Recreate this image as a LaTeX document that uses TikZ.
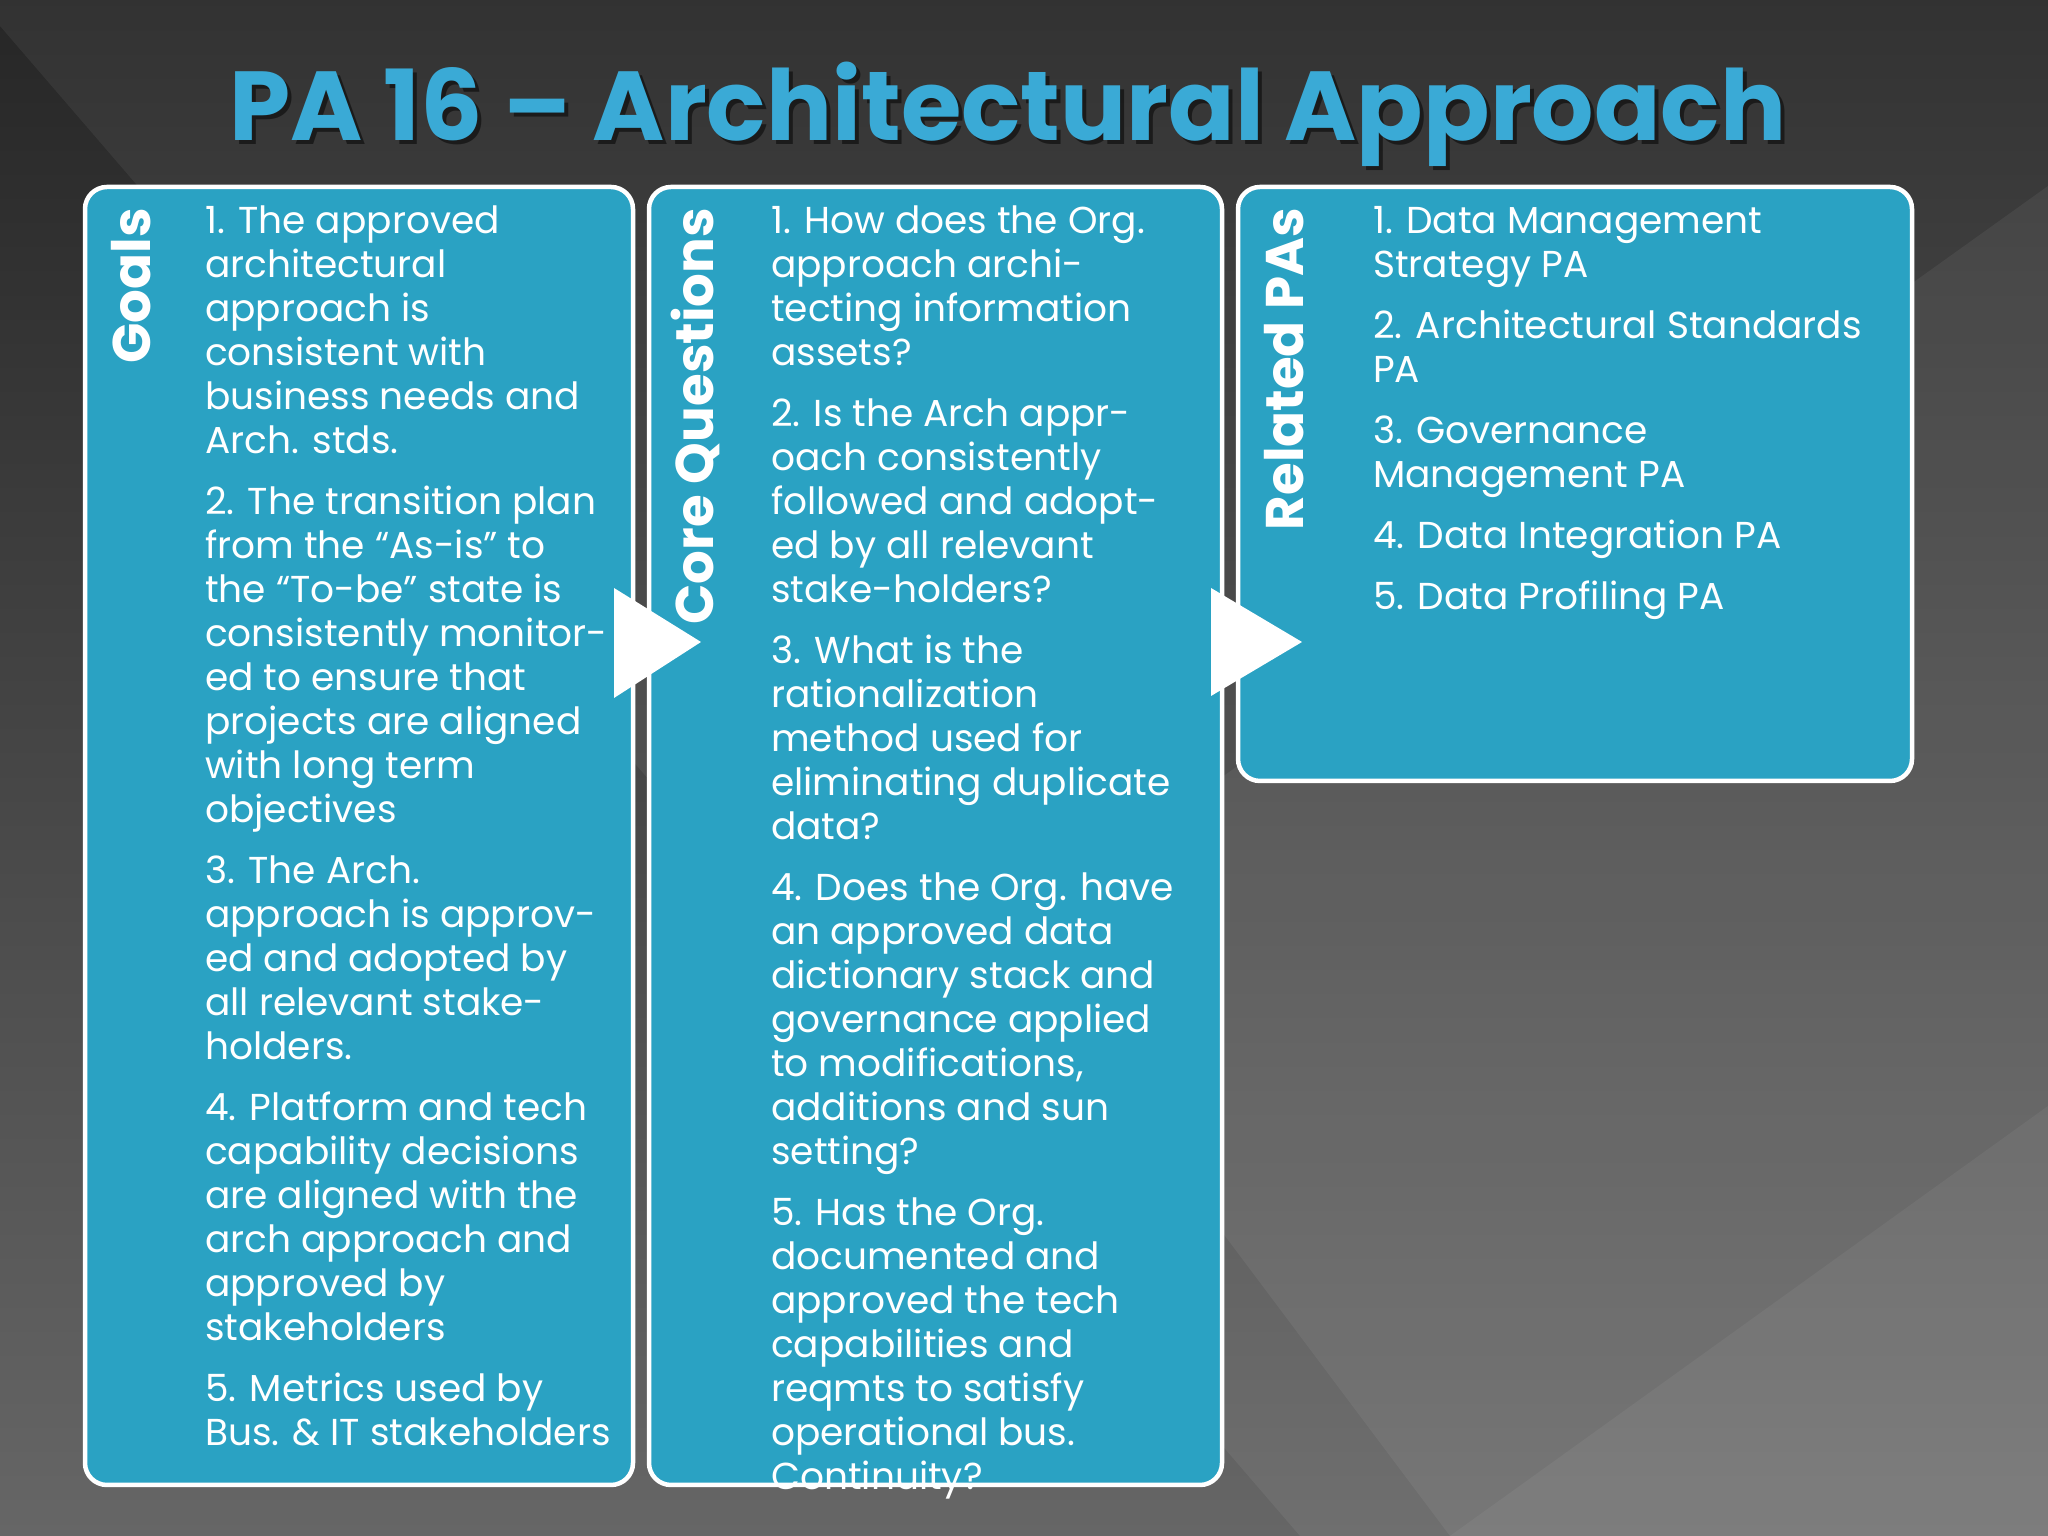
\documentclass[tikz,border=0pt]{standalone}
\usepackage{fontspec}
\setmainfont{Poppins}
\begin{document}
\begin{tikzpicture}[x=1pt,y=1pt,
  panel/.style={draw=white,line width=4.5pt,fill=boxblue,rounded corners=22pt},
  vlabel/.style={rotate=90,anchor=east,text=white,font=\fontsize{53}{58}\selectfont\bfseries,inner sep=0pt},
  body/.style={anchor=north west,text=white,align=left,inner sep=0pt,font=\fontsize{37.5}{44}\selectfont},
  tri/.style={fill=white,draw=none}]
\definecolor{boxblue}{HTML}{2AA2C3}
\definecolor{titleblue}{HTML}{3AAAD6}
\useasboundingbox (0,0) rectangle (2048,1536);
\shade[top color=black!85,bottom color=black!60] (0,0) rectangle (2048,1536);
\fill[white,opacity=0.06] (0,1536) -- (0,1510) -- (1300,0) -- (2048,0) -- (2048,1536) -- cycle;
\fill[white,opacity=0.06] (1000,600) -- (2048,1350) -- (2048,0) -- (1450,0) -- cycle;
\fill[white,opacity=0.05] (1450,0) -- (2048,430) -- (2048,0) -- cycle;
\node[text=black,opacity=0.5,font=\fontsize{98}{108}\selectfont\bfseries] at (1012,1418) {PA 16 – Architectural Approach};
\node[text=titleblue,font=\fontsize{98}{108}\selectfont\bfseries] (title) at (1008,1422) {PA 16 – Architectural Approach};
\draw[panel] (85,51) rectangle (633,1349);
\draw[panel] (649,51) rectangle (1222,1349);
\draw[panel] (1238,755) rectangle (1912,1349);
\node[vlabel] (g) at (131,1328) {Goals};
\node[vlabel] (c) at (695,1328) {Core Questions};
\node[vlabel] (r) at (1284,1328) {Related PAs};
\fill[tri] (614,948) -- (701,894) -- (614,838) -- cycle;
\fill[tri] (1211,948) -- (1302,894) -- (1211,840) -- cycle;
\node[body] (t1) at (205,1330) {1. The approved\\architectural\\approach is\\consistent with\\business needs and\\Arch. stds.\\[17pt]
2. The transition plan\\from the “As-is” to\\the “To-be” state is\\consistently monitor-\\ed to ensure that\\projects are aligned\\with long term\\objectives\\[17pt]
3. The Arch.\\approach is approv-\\ed and adopted by\\all relevant stake-\\holders.\\[17pt]
4. Platform and tech\\capability decisions\\are aligned with the\\arch approach and\\approved by\\stakeholders\\[17pt]
5. Metrics used by\\Bus. \& IT stakeholders};
\node[body] (t2) at (771,1330) {1. How does the Org.\\approach archi-\\tecting information\\assets?\\[17pt]
2. Is the Arch appr-\\oach consistently\\followed and adopt-\\ed by all relevant\\stake-holders?\\[17pt]
3. What is the\\rationalization\\method used for\\eliminating duplicate\\data?\\[17pt]
4. Does the Org. have\\an approved data\\dictionary stack and\\governance applied\\to modifications,\\additions and sun\\setting?\\[17pt]
5. Has the Org.\\documented and\\approved the tech\\capabilities and\\reqmts to satisfy\\operational bus.\\Continuity?};
\node[body] (t3) at (1373,1330) {1. Data Management\\Strategy PA\\[17pt]
2. Architectural Standards\\PA\\[17pt]
3. Governance\\Management PA\\[17pt]
4. Data Integration PA\\[17pt]
5. Data Profiling PA};
\end{tikzpicture}
\end{document}
